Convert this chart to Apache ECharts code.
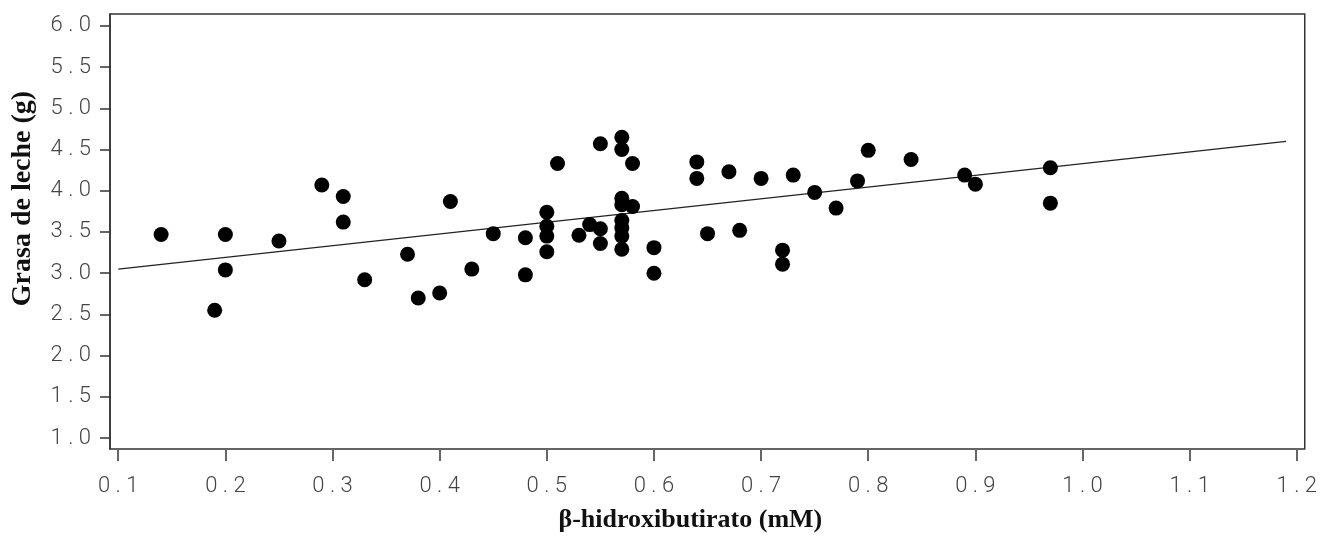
<!DOCTYPE html>
<html>
<head>
<meta charset="utf-8">
<script src="https://cdn.jsdelivr.net/npm/echarts@6/dist/echarts.min.js"></script>
<style>
  html, body { margin: 0; padding: 0; background: #fff; }
  #main { width: 1320px; height: 538px; }
</style>
</head>
<body>
<div id="main"></div>
<script>
// puntos observados (beta-hidroxibutirato mM, grasa g)
var bhbX = [0.14, 0.20, 0.20, 0.19, 0.25, 0.29, 0.31, 0.31, 0.33, 0.37, 0.38, 0.40, 0.41,
  0.43, 0.45, 0.48, 0.48, 0.50, 0.50, 0.50, 0.50, 0.51, 0.53, 0.54, 0.55, 0.55, 0.55,
  0.57, 0.57, 0.57, 0.57, 0.57, 0.57, 0.57, 0.57, 0.58, 0.58, 0.60, 0.60,
  0.64, 0.64, 0.65, 0.67, 0.68, 0.70, 0.72, 0.72, 0.73, 0.75, 0.77, 0.79, 0.80,
  0.84, 0.89, 0.90, 0.97, 0.97]
var grasaY = [3.47, 3.47, 3.04, 2.55, 3.39, 4.07, 3.93, 3.62, 2.92, 3.23, 2.70, 2.76, 3.87,
  3.05, 3.48, 3.43, 2.98, 3.74, 3.57, 3.45, 3.26, 4.33, 3.46, 3.59, 3.54, 3.36, 4.57,
  4.65, 4.50, 3.91, 3.83, 3.64, 3.55, 3.45, 3.29, 4.33, 3.81, 3.31, 3.00,
  4.35, 4.15, 3.48, 4.23, 3.52, 4.15, 3.28, 3.11, 4.19, 3.98, 3.79, 4.12, 4.49,
  4.38, 4.19, 4.08, 4.28, 3.85]

// recta de regresion (extremos)
var regX = [0.10, 1.19]
var regY = [3.05, 4.60]

// marcas de los ejes
var xTicks = [0.1, 0.2, 0.3, 0.4, 0.5, 0.6, 0.7, 0.8, 0.9, 1.0, 1.1, 1.2]
var yTicks = [1.0, 1.5, 2.0, 2.5, 3.0, 3.5, 4.0, 4.5, 5.0, 5.5, 6.0]

var puntos = bhbX.map(function (x, i) { return [x, grasaY[i]] })
var recta = regX.map(function (x, i) { return [x, regY[i]] })

var spaced = function (v) {
  return v.toFixed(1).split('').join(' ')
}

var labelFont = "Roboto, 'Noto Sans', sans-serif"
var titleFont = "'Liberation Serif', 'DejaVu Serif', serif"

var myChart = echarts.init(document.getElementById('main'))

myChart.setOption({
  animation: false,
  backgroundColor: '#fff',
  grid: {
    left: 110,
    right: 15,
    top: 14,
    bottom: 84,
    show: true,
    borderColor: '#333',
    borderWidth: 1.5,
    containLabel: false
  },
  xAxis: {
    type: 'value',
    min: 0.0923,
    max: 1.2074,
    offset: 1,
    splitLine: { show: false },
    axisLine: { show: false },
    axisTick: {
      show: true,
      length: 11,
      customValues: xTicks,
      lineStyle: { color: '#333', width: 1.5 }
    },
    axisLabel: {
      customValues: xTicks,
      formatter: spaced,
      margin: 25,
      color: '#444',
      fontSize: 22,
      fontWeight: 300,
      fontFamily: labelFont
    },
    name: 'β-hidroxibutirato (mM)',
    nameLocation: 'middle',
    nameGap: 57,
    nameTextStyle: {
      fontFamily: titleFont,
      fontWeight: 'bold',
      fontSize: 26,
      color: '#111',
      padding: [0, 34, 0, 0]
    }
  },
  yAxis: {
    type: 'value',
    min: 0.868,
    max: 6.144,
    splitLine: { show: false },
    axisLine: { show: true, lineStyle: { color: '#333', width: 1.5 } },
    axisTick: {
      show: true,
      length: 10,
      customValues: yTicks,
      lineStyle: { color: '#333', width: 1.5 }
    },
    axisLabel: {
      customValues: yTicks,
      formatter: spaced,
      margin: 19,
      color: '#444',
      fontSize: 22,
      fontWeight: 300,
      fontFamily: labelFont
    },
    name: 'Grasa de leche (g)',
    nameLocation: 'middle',
    nameGap: 73,
    nameTextStyle: {
      fontFamily: titleFont,
      fontWeight: 'bold',
      fontSize: 28,
      color: '#111',
      padding: [0, 0, 0, 66]
    }
  },
  series: [{
    type: 'line',
    data: recta,
    symbol: 'none',
    lineStyle: { color: '#222', width: 1.3 },
    z: 3
  }, {
    type: 'scatter',
    data: puntos,
    symbol: 'circle',
    symbolSize: 15,
    itemStyle: { color: '#000', opacity: 1 },
    z: 4
  }]
})

window.onresize = function () {
  myChart.resize()
}
</script>
</body>
</html>
